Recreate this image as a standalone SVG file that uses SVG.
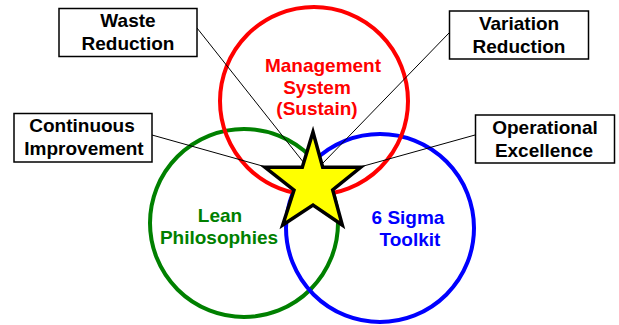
<svg xmlns="http://www.w3.org/2000/svg" width="619" height="325" viewBox="0 0 619 325">
<style>
.c{fill:none;stroke-width:4}
.box rect{fill:#fff;stroke:#000;stroke-width:1.5}
text{font-family:"Liberation Sans",Arial,sans-serif;font-weight:bold;font-size:19px;text-anchor:middle}
.conn line{stroke:#000;stroke-width:1}
</style>
<rect width="619" height="325" fill="#fff"/>
<g id="lean"><circle class="c" cx="244" cy="223" r="94" stroke="#008000"/>
<text fill="#008000" x="220" y="222">Lean</text><text fill="#008000" x="219" y="244">Philosophies</text></g>
<g id="sigma"><circle class="c" cx="380" cy="228" r="94" stroke="#0000ff"/>
<text fill="#0000ff" x="408" y="224">6 Sigma</text><text fill="#0000ff" x="410" y="246">Toolkit</text></g>
<g id="mgmt"><circle class="c" cx="314" cy="101" r="94" stroke="#ff0000"/>
<text fill="#ff0000" x="323" y="72">Management</text><text fill="#ff0000" x="317" y="94">System</text><text fill="#ff0000" x="317" y="115">(Sustain)</text></g>
<g class="conn" id="connectors">
<line x1="197" y1="28" x2="304" y2="163"/>
<line x1="152" y1="135" x2="266" y2="167"/>
<line x1="449" y1="33" x2="323" y2="163"/>
<line x1="475" y1="135" x2="360" y2="167"/>
</g>
<g id="star"><polygon points="313,132 302.3,167.3 265,167.3 294,190 282.7,225 313,205 342.3,225 332.7,190 360.7,167.3 322.7,167.3" fill="#ffff00" stroke="#000" stroke-width="3.5" stroke-linejoin="miter"/></g>
<g class="box" id="waste"><rect x="59" y="8.5" width="138" height="48"/><text x="128" y="27">Waste</text><text x="128" y="50">Reduction</text></g>
<g class="box" id="continuous"><rect x="14" y="113.5" width="138" height="48.5"/><text x="82" y="132">Continuous</text><text x="84" y="155">Improvement</text></g>
<g class="box" id="variation"><rect x="449.5" y="11" width="139" height="48"/><text x="519" y="30">Variation</text><text x="519" y="53">Reduction</text></g>
<g class="box" id="operational"><rect x="475.5" y="115" width="139" height="48"/><text x="545" y="134">Operational</text><text x="544" y="157">Excellence</text></g>
</svg>
